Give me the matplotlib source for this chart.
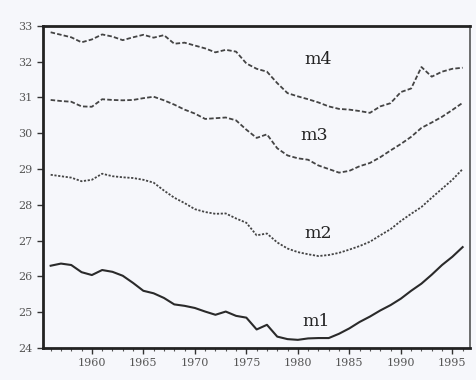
import matplotlib
matplotlib.use("Agg")
import matplotlib.pyplot as plt
from matplotlib.ticker import MultipleLocator

years = list(range(1956, 1997))

m4 = [32.82, 32.75, 32.68, 32.54, 32.62, 32.76, 32.70, 32.60, 32.68, 32.75,
      32.67, 32.74, 32.50, 32.53, 32.45, 32.37, 32.26, 32.33, 32.28, 31.95,
      31.80, 31.72, 31.40, 31.12, 31.03, 30.95, 30.86, 30.75, 30.68, 30.66,
      30.62, 30.57, 30.75, 30.84, 31.15, 31.25, 31.85, 31.58, 31.72, 31.80, 31.83]

m3 = [30.93, 30.90, 30.88, 30.75, 30.74, 30.95, 30.93, 30.92, 30.93, 30.98,
      31.02, 30.92, 30.80, 30.66, 30.55, 30.40, 30.42, 30.44, 30.36, 30.10,
      29.87, 29.97, 29.58, 29.38, 29.30, 29.26, 29.10, 29.00, 28.90, 28.95,
      29.08, 29.17, 29.33, 29.52, 29.70, 29.90, 30.15, 30.30, 30.46, 30.65, 30.85]

m2 = [28.84, 28.80, 28.76, 28.66, 28.70, 28.87, 28.80, 28.77, 28.75, 28.70,
      28.62, 28.40, 28.20, 28.05, 27.88, 27.80, 27.75, 27.76, 27.62, 27.50,
      27.15, 27.20, 26.95, 26.78, 26.68, 26.62, 26.57, 26.60, 26.66, 26.75,
      26.85, 26.97, 27.15, 27.32, 27.55, 27.75, 27.94, 28.20, 28.45, 28.70, 29.00]

m1 = [26.30, 26.36, 26.32, 26.12, 26.04, 26.18, 26.13, 26.02, 25.82, 25.60,
      25.53, 25.40, 25.22, 25.18, 25.12, 25.02, 24.93, 25.02, 24.90, 24.85,
      24.52, 24.65, 24.32, 24.25, 24.23, 24.27, 24.28, 24.28, 24.40, 24.55,
      24.73, 24.88, 25.05, 25.20, 25.38, 25.60, 25.80, 26.05, 26.32, 26.55, 26.82]

series_names = ["m4", "m3", "m2", "m1"]
label_pos = [(1982.0, 32.05), (1981.6, 29.95), (1982.0, 27.2), (1981.8, 24.73)]

xticks = [1960, 1965, 1970, 1975, 1980, 1985, 1990, 1995]
yticks = [24, 25, 26, 27, 28, 29, 30, 31, 32, 33]

bg = "#f6f7fb"
fig = plt.figure(figsize=(4.77, 3.80), dpi=100, facecolor=bg)
ax = fig.add_axes([0.090, 0.084, 0.895, 0.848], facecolor=bg)

lc = "#444444"
ax.plot(years, m4, color=lc, lw=1.3, linestyle=(0, (2.5, 1.2)))
ax.plot(years, m3, color=lc, lw=1.3, linestyle=(0, (2.5, 1.2)))
ax.plot(years, m2, color=lc, lw=1.3, linestyle=(0, (1.2, 0.9)))
ax.plot(years, m1, color="#2a2a2a", lw=1.5, linestyle="-")

for name, (x, y) in zip(series_names, label_pos):
    ax.text(x, y, name, family="DejaVu Serif", fontsize=12.5, color="#222222",
            ha="center", va="center")

ax.set_xlim(1955.25, 1996.7)
ax.set_ylim(24, 33)
ax.set_xticks(xticks)
ax.set_yticks(yticks)
ax.xaxis.set_minor_locator(MultipleLocator(1))
ax.tick_params(axis="both", which="major", direction="out", length=4, width=1,
               color="#333333", labelsize=8, labelcolor="#555555")
ax.tick_params(axis="x", which="minor", direction="out", length=2.5, width=0.8,
               color="#555555")
for lab in ax.get_xticklabels() + ax.get_yticklabels():
    lab.set_family("DejaVu Serif")

for side in ["left", "bottom", "top"]:
    ax.spines[side].set_linewidth(2.0)
    ax.spines[side].set_color("#222222")
ax.spines["right"].set_linewidth(1.2)
ax.spines["right"].set_color("#555555")

fig.savefig("out.png", dpi=100, facecolor=bg)
